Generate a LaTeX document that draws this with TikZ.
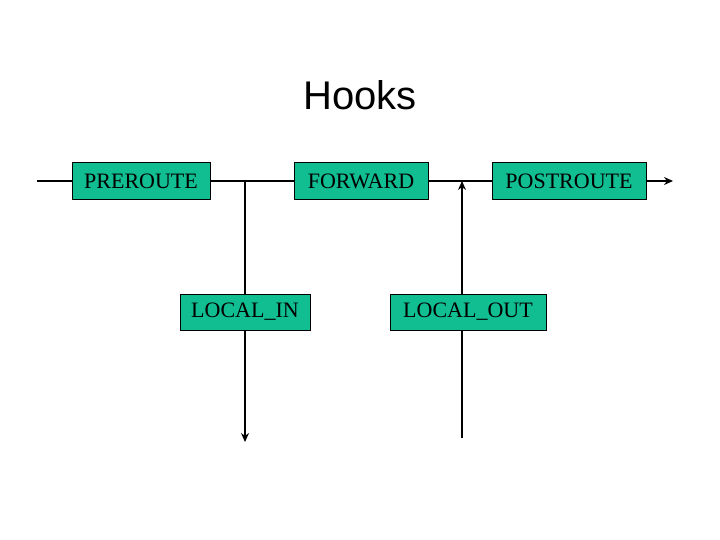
\documentclass[tikz,border=0pt]{standalone}
\usepackage{fontspec}
\usetikzlibrary{arrows.meta}
\setmainfont{Liberation Serif}
\newfontfamily\titlefont{Liberation Sans}
\definecolor{boxgreen}{RGB}{16,190,145}
\begin{document}
\begin{tikzpicture}[x=1pt,y=-1pt,
  hook/.style={draw=black,fill=boxgreen,line width=0.8pt,minimum height=37pt,inner sep=0pt,font=\fontsize{22}{24}\selectfont},
  wire/.style={line width=1.3pt},
  arr/.style={wire,-{Stealth[length=9pt,width=8pt]}}]
\useasboundingbox (0,0) rectangle (720,540);
\node[font=\titlefont\fontsize{40}{44}\selectfont] (title) at (360,95) {Hooks};
\coordinate (in) at (37,181);
\coordinate (out) at (673,181);
\coordinate (j1) at (245,181);
\coordinate (j2) at (462,181);
\coordinate (down) at (245,442);
\coordinate (up) at (462,438);
\node[hook,minimum width=138pt] (pre) at (141,181) {PREROUTE};
\node[hook,minimum width=134pt] (fwd) at (361,181) {FORWARD};
\node[hook,minimum width=154pt] (post) at (569,181) {POSTROUTE};
\node[hook,minimum width=130pt,minimum height=36pt] (lin) at (245,312) {LOCAL\_IN};
\node[hook,minimum width=156pt,minimum height=36pt] (lout) at (468,312) {LOCAL\_OUT};
\draw[wire] (in) -- (pre.west);
\draw[wire] (pre.east) -- (fwd.west);
\draw[wire] (fwd.east) -- (post.west);
\draw[arr] (post.east) -- (out);
\draw[wire] (j1) -- (lin.north -| j1);
\draw[arr] (lin.south -| j1) -- (down);
\draw[wire] (up) -- (lout.south -| j2);
\draw[arr] (lout.north -| j2) -- (j2);
\end{tikzpicture}
\end{document}
